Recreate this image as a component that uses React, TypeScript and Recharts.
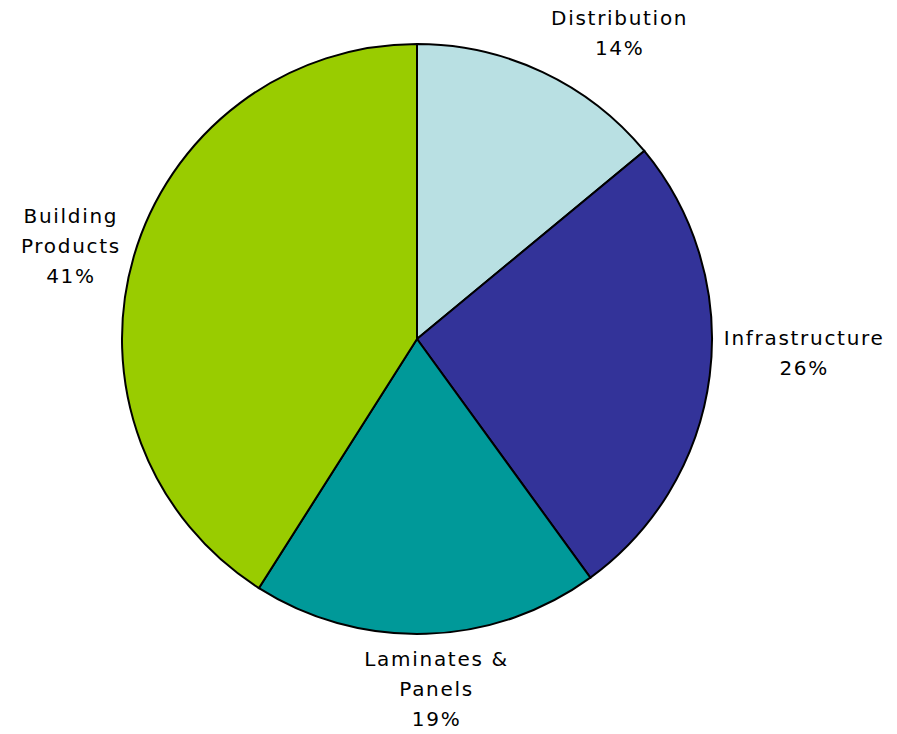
import React from "react";
import { PieChart, Pie, Cell } from "recharts";

const segments = ["Distribution", "Infrastructure", "Laminates & Panels", "Building Products"];
const shares = [14, 26, 19, 41];
const labelLines = [["Distribution"], ["Infrastructure"], ["Laminates &", "Panels"], ["Building", "Products"]];
const colors = ["#B9E0E3", "#333399", "#009999", "#99CC00"];

const data = segments.map((name, i) => ({ name, value: shares[i] }));

const RADIAN = Math.PI / 180;
const FONT_SIZE = 20;
const LINE_H = 30;

// Excel-style outside label: box sits just past the rim, edge nearest the pie
function renderLabel(props: any) {
  const { cx, cy, midAngle, outerRadius, index, value } = props;
  const r = outerRadius + 10;
  const cos = Math.cos(-midAngle * RADIAN);
  const sin = Math.sin(-midAngle * RADIAN);
  const ax = cx + r * cos;
  const ay = cy + r * sin;
  const lines = [...labelLines[index], `${value}%`];
  const boxH = lines.length * LINE_H;
  const widths = lines.map((l) => l.length * 11.8);
  const boxW = Math.max(...widths);

  let left = ax - boxW / 2 + 10;
  if (cos > 0.3) left = ax + 2;
  else if (cos < -0.3) left = ax - boxW - 6;

  let top = ay - boxH / 2;
  if (sin < -0.3) top = ay - boxH;
  else if (sin > 0.3) top = ay;
  else if (cos > 0) top = ay - boxH / 2 - 24;
  else top = ay - boxH / 2 - 8;

  const midX = left + boxW / 2;
  return (
    <text
      x={midX}
      y={top}
      textAnchor="middle"
      fill="#000"
      fontFamily="'DejaVu Sans', Verdana, sans-serif"
      fontSize={FONT_SIZE}
      letterSpacing={1.7}
    >
      {lines.map((l, i) => (
        <tspan key={i} x={midX} y={top + LINE_H * i + 22}>
          {l}
        </tspan>
      ))}
    </text>
  );
}

export default function App() {
  return (
    <div style={{ position: "absolute", left: 0, top: 0, width: 897, height: 734, background: "#fff" }}>
      <PieChart width={897} height={734} margin={{ top: 0, right: 0, bottom: 0, left: 0 }}>
        <Pie
          data={data}
          dataKey="value"
          nameKey="name"
          cx={417}
          cy={339}
          outerRadius={295}
          startAngle={90}
          endAngle={-270}
          stroke="#000"
          strokeWidth={2}
          label={renderLabel}
          labelLine={false}
          isAnimationActive={false}
        >
          {data.map((entry, index) => (
            <Cell key={`cell-${index}`} fill={colors[index]} />
          ))}
        </Pie>
      </PieChart>
    </div>
  );
}
